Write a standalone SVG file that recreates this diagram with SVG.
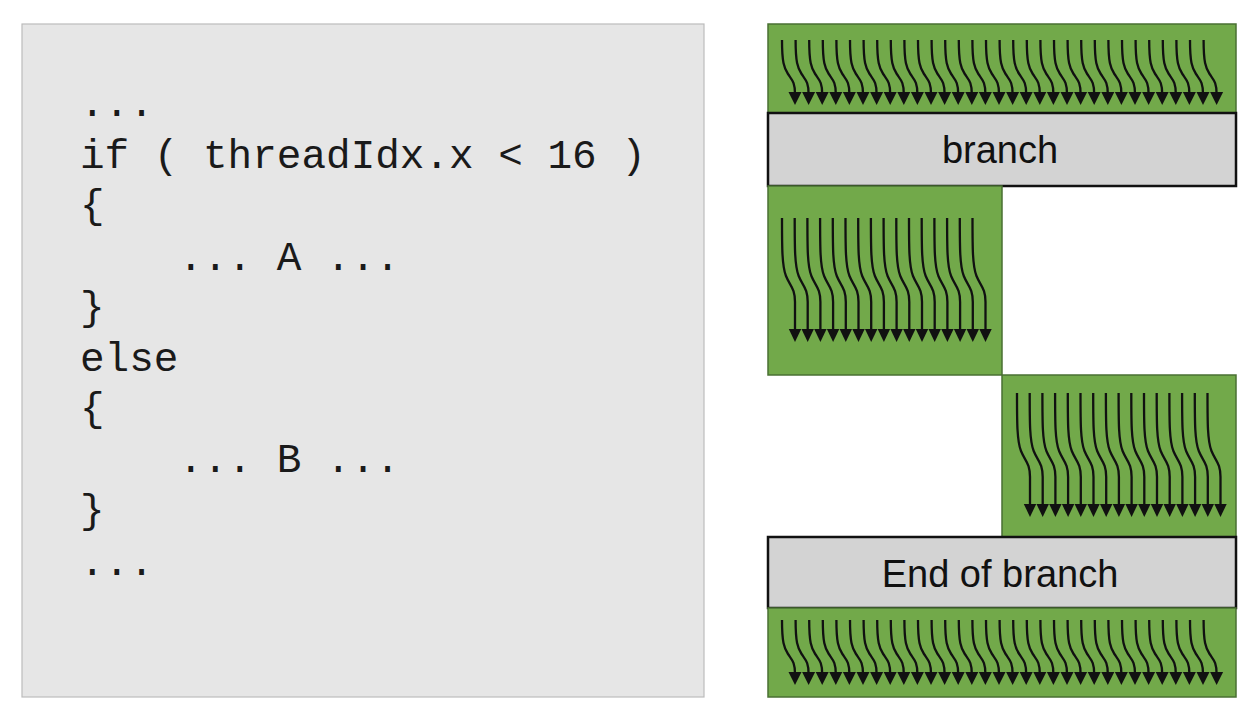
<svg xmlns="http://www.w3.org/2000/svg" xmlns:xlink="http://www.w3.org/1999/xlink" width="1255" height="716" viewBox="0 0 1255 716">
<style>
.panel{fill:#e6e6e6;stroke:#bcbcbc;stroke-width:1.2}
.code{font-family:"Liberation Mono","Courier New",monospace;font-size:41px;fill:#1a1a1a;white-space:pre}
.green{fill:#72a94a;stroke:#4a7033;stroke-width:1.5}
.gray{fill:#d3d3d3;stroke:#111;stroke-width:2.5}
.lbl{font-family:"Liberation Sans",Arial,sans-serif;font-size:38px;fill:#111;text-anchor:middle}
.ln{fill:none;stroke:#111;stroke-width:2.3}
.hd{fill:#111}
</style>
<defs>
<g id="as">
<path class="ln" d="M0 0 C0 22, 2 28, 6 34 C10 40, 13 42, 13 54"/>
<polygon class="hd" points="6.5,52 19.5,52 13,65"/>
</g>
<g id="al">
<path class="ln" d="M0 0 C0 30, 0 48, 4 58 C8 68, 13 70, 13 84 L13 113"/>
<polygon class="hd" points="6.8,111 19.2,111 13,124"/>
</g>
</defs>

<g id="code-panel">
<rect class="panel" x="22" y="24" width="682" height="673"/>
<text class="code" x="80" y="116" xml:space="preserve">...</text>
<text class="code" x="80" y="168" xml:space="preserve">if ( threadIdx.x &lt; 16 )</text>
<text class="code" x="80" y="218" xml:space="preserve">{</text>
<text class="code" x="80" y="270" xml:space="preserve">    ... A ...</text>
<text class="code" x="80" y="320" xml:space="preserve">}</text>
<text class="code" x="80" y="371" xml:space="preserve">else</text>
<text class="code" x="80" y="421" xml:space="preserve">{</text>
<text class="code" x="80" y="472" xml:space="preserve">    ... B ...</text>
<text class="code" x="80" y="523" xml:space="preserve">}</text>
<text class="code" x="80" y="575" xml:space="preserve">...</text>
</g>

<g id="warp-top">
<rect class="green" x="768" y="24" width="468" height="89"/>
<g transform="translate(782,40)"><use xlink:href="#as" x="0"/><use xlink:href="#as" x="13.6"/><use xlink:href="#as" x="27.2"/><use xlink:href="#as" x="40.8"/><use xlink:href="#as" x="54.4"/><use xlink:href="#as" x="68"/><use xlink:href="#as" x="81.6"/><use xlink:href="#as" x="95.2"/><use xlink:href="#as" x="108.8"/><use xlink:href="#as" x="122.4"/><use xlink:href="#as" x="136"/><use xlink:href="#as" x="149.6"/><use xlink:href="#as" x="163.2"/><use xlink:href="#as" x="176.8"/><use xlink:href="#as" x="190.4"/><use xlink:href="#as" x="204"/><use xlink:href="#as" x="217.6"/><use xlink:href="#as" x="231.2"/><use xlink:href="#as" x="244.8"/><use xlink:href="#as" x="258.4"/><use xlink:href="#as" x="272"/><use xlink:href="#as" x="285.6"/><use xlink:href="#as" x="299.2"/><use xlink:href="#as" x="312.8"/><use xlink:href="#as" x="326.4"/><use xlink:href="#as" x="340"/><use xlink:href="#as" x="353.6"/><use xlink:href="#as" x="367.2"/><use xlink:href="#as" x="380.8"/><use xlink:href="#as" x="394.4"/><use xlink:href="#as" x="408"/><use xlink:href="#as" x="421.6"/></g>
</g>

<g id="branch">
<rect class="gray" x="768" y="113" width="468" height="73"/>
<text class="lbl" x="1000" y="163">branch</text>
</g>

<g id="path-a">
<rect class="green" x="768" y="186" width="234" height="189"/>
<g transform="translate(782,218)"><use xlink:href="#al" x="0"/><use xlink:href="#al" x="12.7"/><use xlink:href="#al" x="25.4"/><use xlink:href="#al" x="38.1"/><use xlink:href="#al" x="50.8"/><use xlink:href="#al" x="63.5"/><use xlink:href="#al" x="76.2"/><use xlink:href="#al" x="88.9"/><use xlink:href="#al" x="101.6"/><use xlink:href="#al" x="114.3"/><use xlink:href="#al" x="127"/><use xlink:href="#al" x="139.7"/><use xlink:href="#al" x="152.4"/><use xlink:href="#al" x="165.1"/><use xlink:href="#al" x="177.8"/><use xlink:href="#al" x="190.5"/></g>
</g>

<g id="path-b">
<rect class="green" x="1002" y="375" width="234" height="162"/>
<g transform="translate(1017,393)"><use xlink:href="#al" x="0"/><use xlink:href="#al" x="12.7"/><use xlink:href="#al" x="25.4"/><use xlink:href="#al" x="38.1"/><use xlink:href="#al" x="50.8"/><use xlink:href="#al" x="63.5"/><use xlink:href="#al" x="76.2"/><use xlink:href="#al" x="88.9"/><use xlink:href="#al" x="101.6"/><use xlink:href="#al" x="114.3"/><use xlink:href="#al" x="127"/><use xlink:href="#al" x="139.7"/><use xlink:href="#al" x="152.4"/><use xlink:href="#al" x="165.1"/><use xlink:href="#al" x="177.8"/><use xlink:href="#al" x="190.5"/></g>
</g>

<g id="end-branch">
<rect class="gray" x="768" y="537" width="468" height="71"/>
<text class="lbl" x="1000" y="587">End of branch</text>
</g>

<g id="warp-bottom">
<rect class="green" x="768" y="608" width="468" height="89"/>
<g transform="translate(782,620)"><use xlink:href="#as" x="0"/><use xlink:href="#as" x="13.6"/><use xlink:href="#as" x="27.2"/><use xlink:href="#as" x="40.8"/><use xlink:href="#as" x="54.4"/><use xlink:href="#as" x="68"/><use xlink:href="#as" x="81.6"/><use xlink:href="#as" x="95.2"/><use xlink:href="#as" x="108.8"/><use xlink:href="#as" x="122.4"/><use xlink:href="#as" x="136"/><use xlink:href="#as" x="149.6"/><use xlink:href="#as" x="163.2"/><use xlink:href="#as" x="176.8"/><use xlink:href="#as" x="190.4"/><use xlink:href="#as" x="204"/><use xlink:href="#as" x="217.6"/><use xlink:href="#as" x="231.2"/><use xlink:href="#as" x="244.8"/><use xlink:href="#as" x="258.4"/><use xlink:href="#as" x="272"/><use xlink:href="#as" x="285.6"/><use xlink:href="#as" x="299.2"/><use xlink:href="#as" x="312.8"/><use xlink:href="#as" x="326.4"/><use xlink:href="#as" x="340"/><use xlink:href="#as" x="353.6"/><use xlink:href="#as" x="367.2"/><use xlink:href="#as" x="380.8"/><use xlink:href="#as" x="394.4"/><use xlink:href="#as" x="408"/><use xlink:href="#as" x="421.6"/></g>
</g>
</svg>
